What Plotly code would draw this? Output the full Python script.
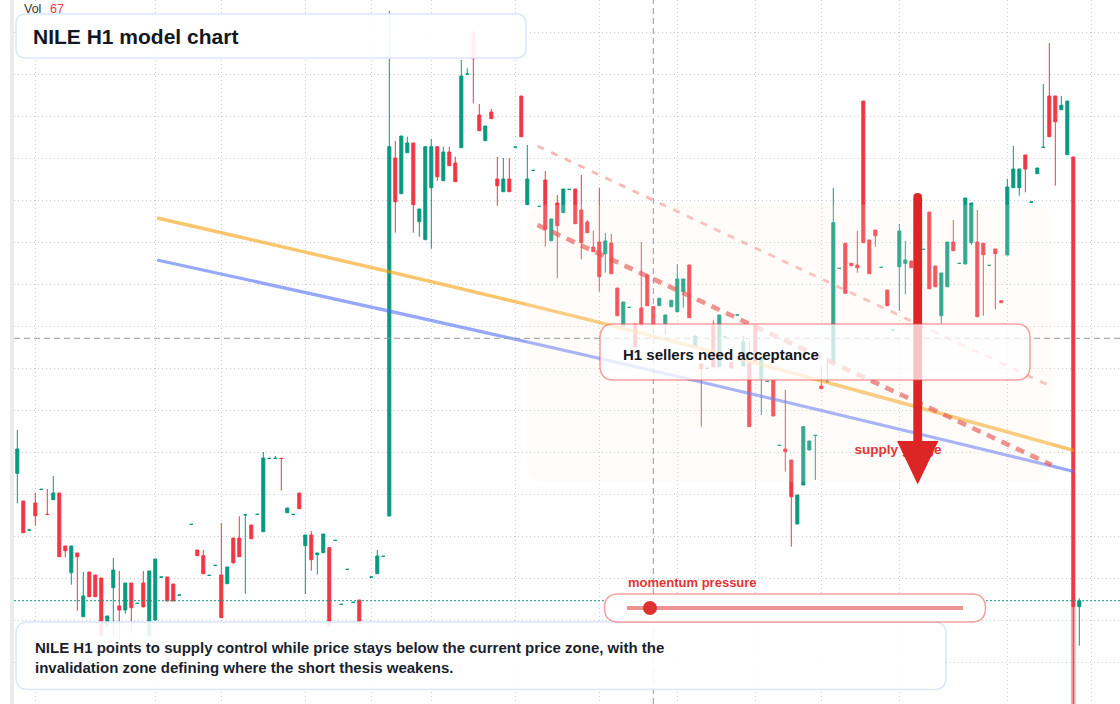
import plotly.graph_objects as go

W, H = 1120, 704
ML = 14
GREEN = "#089981"
RED = "#f23645"
FONT = "Liberation Sans, Arial, sans-serif"

# hourly candles, index 0..177 (None = no print)
open_ = [
    52.67, 49.9, 46.97, 49.7, 51.05, 48.57, 50.03, 50.7, 45.4, 42.73,
    44.7, 38.33, 42.8, 42.5, 42.2, 37.4, 41.23, 39.4, 39.0, 41.7,
    39.65, 41.7, 36.4, 38.0, 42.28, 42.3, 41.6, 40.48, None, 47.55,
    45.0, 44.43, 42.45, 43.45, 42.5, 41.63, 46.2, 46.2, 48.51, 47.5,
    48.55, 46.83, 54.15, 54.15, 54.17, 48.73, 48.55, 50.7, 45.43, 46.5,
    44.53, 44.73, 45.23, 45.95, 39.55, 43.05, 39.75, 40.0, None, 42.28,
    42.63, 44.35, 48.4, 84.2, 80.63, 84.73, 85.7, 77.83, 76.03, 81.23,
    85.33, 81.93, 84.8, 83.7, 85.23, 92.58, 96.8, 88.5, 85.93, 88.8,
    82.1, 80.83, 82.1, 85.28, 90.4, 79.53, 82.95, 79.35, 82.0, 75.93,
    79.7, 78.73, 81.05, 81.1, 79.0, 77.8, 75.3, 75.8, 74.63, 75.7,
    71.2, 67.4, 69.25, 67.6, 69.2, 72.5, 69.33, 69.43, 67.63, 69.33,
    68.83, 70.83, 73.5, 65.43, 63.6, 63.15, 67.4, 63.33, 66.31, 63.73,
    68.48, 63.4, 63.67, 67.5, 62.07, 61.85, 61.93, 55.45, 55.1, 54.0,
    47.6, 51.5, 55.0, 56.45, 61.4, 61.81, 63.83, 73.15, 75.67, 73.67,
    73.5, 89.9, 76.0, 77.0, 73.25, 71.0, 66.98, 73.33, 73.67, 73.9,
    None, 75.05, 78.8, 73.4, 68.43, 71.33, 75.8, 73.65, 73.6, 75.73,
    75.8, 75.67, 73.45, 75.1, 69.93, 74.5, 81.23, 81.23, 84.5, 79.78,
    82.63, 85.25, 90.4, 90.4, 89.03, 84.53, 84.3, 39.33,
]
high = [
    57.0, 49.9, 47.0, 50.7, 51.07, 51.1, 52.4, 50.7, 45.4, 45.4,
    44.7, 42.8, 42.8, 42.5, 42.2, 38.4, 44.2, 42.9, 41.7, 41.7,
    39.67, 42.9, 42.9, 44.1, 42.3, 42.3, 41.6, 40.5, None, 47.57,
    45.0, 45.0, 42.47, 43.47, 47.7, 43.3, 46.2, 48.37, 48.53, 47.5,
    48.57, 54.8, 54.17, 54.4, 54.17, 49.2, 48.57, 50.7, 46.5, 46.9,
    44.7, 46.6, 45.23, 45.97, 39.57, 43.07, 39.77, 40.0, None, 42.3,
    45.0, 44.37, 98.9, 85.9, 86.4, 86.33, 85.7, 79.1, 85.33, 86.1,
    85.33, 85.33, 85.33, 84.33, 94.0, 93.17, 96.8, 89.6, 87.4, 89.13,
    84.3, 84.2, 84.2, 85.3, 90.4, 85.5, 82.97, 79.37, 82.9, 78.1,
    80.5, 81.1, 81.07, 81.1, 82.5, 78.0, 76.93, 81.23, 76.7, 76.6,
    71.2, 69.8, 69.27, 67.6, 75.8, 72.5, 69.33, 70.17, 68.5, 69.97,
    73.57, 72.1, 73.5, 66.4, 63.6, 63.17, 67.97, 68.5, 66.33, 63.73,
    68.5, 66.4, 65.9, 67.5, 64.33, 61.87, 61.93, 55.47, 61.0, 54.0,
    50.5, 57.33, 55.9, 56.47, 63.33, 64.33, 81.2, 73.17, 75.67, 73.67,
    76.9, 89.9, 76.0, 77.0, 73.27, 71.0, 67.0, 77.6, 75.9, 73.9,
    None, 75.07, 78.8, 73.4, 72.7, 75.8, 78.0, 73.67, 80.2, 79.7,
    79.0, 75.67, 73.47, 75.1, 69.93, 82.13, 85.4, 83.1, 84.5, 79.8,
    83.2, 91.6, 95.7, 90.4, 90.4, 89.9, 84.3, 40.17,
]
low = [
    49.67, 46.73, 46.97, 47.43, 51.05, 48.55, 50.03, 44.33, 44.27, 41.53,
    38.93, 38.33, 40.33, 40.33, 36.4, 37.4, 36.33, 36.0, 38.63, 36.7,
    39.65, 39.23, 36.4, 38.0, 42.28, 39.9, 39.9, 40.48, None, 47.55,
    44.43, 42.63, 42.45, 43.45, 38.23, 41.63, 43.6, 44.33, 40.63, 46.13,
    48.55, 46.83, 54.15, 54.15, 50.93, 48.73, 48.55, 49.13, 40.6, 42.93,
    42.53, 44.73, 37.43, 45.95, 39.55, 43.05, 39.75, 37.6, None, 42.28,
    42.63, 44.35, 48.4, 76.73, 80.63, 84.73, 76.73, 76.33, 76.03, 75.13,
    81.9, 81.93, 83.43, 81.83, 85.23, 92.58, 89.67, 86.93, 85.93, 88.13,
    79.43, 80.83, 80.83, 85.28, 86.33, 79.53, 82.95, 79.35, 75.33, 75.93,
    72.17, 78.73, 81.05, 77.63, 74.07, 76.73, 74.83, 70.83, 72.73, 72.63,
    68.43, 67.4, 69.25, 65.33, 67.47, 69.43, 67.5, 69.43, 66.5, 69.33,
    68.83, 69.23, 68.23, 65.43, 57.33, 63.15, 63.33, 63.33, 66.31, 63.2,
    68.48, 63.4, 57.33, 63.83, 58.5, 61.85, 58.4, 55.45, 52.83, 45.33,
    47.6, 51.5, 55.0, 52.0, 61.13, 61.81, 63.83, 73.15, 70.67, 73.43,
    72.73, 75.73, 72.63, 75.33, 73.25, 69.43, 66.98, 68.9, 70.57, 73.23,
    None, 75.05, 71.13, 71.33, 67.67, 71.33, 74.93, 73.65, 73.6, 75.5,
    68.33, 68.43, 73.45, 69.07, 69.73, 74.5, 81.23, 80.43, 80.77, 79.78,
    82.63, 85.25, 86.33, 81.43, 89.03, 84.53, 25.0, 35.43,
]
close = [
    55.1, 46.73, 47.0, 48.43, 51.07, 48.55, 50.7, 44.33, 44.93, 45.4,
    44.33, 40.4, 40.33, 40.33, 36.4, 38.4, 43.0, 39.0, 41.7, 39.23,
    39.67, 39.33, 42.9, 44.1, 42.3, 39.9, 39.9, 40.5, None, 47.57,
    44.43, 42.63, 42.47, 43.47, 38.23, 43.3, 43.73, 44.33, 48.53, 46.13,
    48.57, 54.2, 54.17, 54.17, 54.15, 49.2, 48.57, 49.13, 46.5, 44.03,
    44.7, 46.6, 37.43, 45.97, 39.57, 43.07, 39.77, 37.6, None, 42.3,
    44.4, 44.37, 85.33, 79.83, 86.4, 85.7, 79.53, 79.1, 85.33, 85.33,
    82.33, 84.8, 83.43, 81.83, 92.4, 92.6, 94.13, 86.93, 87.4, 88.13,
    81.43, 82.1, 80.83, 85.3, 86.33, 82.1, 82.97, 79.37, 77.07, 78.1,
    77.43, 81.1, 81.07, 77.63, 75.73, 76.73, 74.83, 72.33, 75.9, 72.63,
    68.43, 69.8, 69.27, 65.33, 67.47, 69.43, 67.5, 70.17, 68.5, 69.97,
    72.1, 72.1, 68.23, 66.4, 63.13, 63.17, 63.33, 68.5, 66.33, 63.2,
    68.5, 65.83, 57.33, 63.83, 64.33, 61.87, 58.4, 55.47, 54.83, 50.33,
    50.5, 57.33, 55.9, 56.47, 61.13, 61.83, 77.73, 73.17, 70.67, 73.43,
    73.23, 75.73, 72.63, 76.43, 73.27, 69.43, 67.0, 76.9, 74.0, 73.23,
    None, 75.07, 71.13, 71.33, 72.7, 75.8, 74.93, 73.67, 80.2, 79.7,
    68.33, 74.53, 73.47, 74.63, 69.73, 81.3, 83.1, 83.1, 83.1, 79.8,
    83.2, 85.27, 86.33, 87.83, 89.47, 89.9, 39.33, 39.93,
]
idx = list(range(len(open_)))

# faded extension of the last red bar below its close
tail_x = [176]
tail_base = [25.0]

# model curves (candle index, price)
orange_x = [23.3, 100, 176.1]
orange_y = [78.2, 67.3, 54.95]
blue_x = [23.3, 100, 176.1]
blue_y = [74.0, 63.75, 52.85]
chan_x = [86.7, 172.4]
chan_upper = [85.4, 61.33]
chan_lower = [77.5, 53.5]

cross_x = 106
cross_y = 66.17
time_ticks = [3, 23, 34, 48, 59, 69, 83, 97, 110, 123, 134, 147, 165, 179]
vol_value = 67


def fx(x):
    return (x - ML) / (W - ML)


def fy(y):
    return 1 - y / H


def rbox(x0, y0, x1, y1, r):
    p = [
        (x0 + r, y0), (x1 - r, y0), (x1, y0), (x1, y0 + r), (x1, y1 - r),
        (x1, y1), (x1 - r, y1), (x0 + r, y1), (x0, y1), (x0, y1 - r),
        (x0, y0 + r), (x0, y0), (x0 + r, y0),
    ]
    q = [f"{fx(a):.5f},{fy(b):.5f}" for a, b in p]
    return (f"M{q[0]} L{q[1]} Q{q[2]} {q[3]} L{q[4]} Q{q[5]} {q[6]} "
            f"L{q[7]} Q{q[8]} {q[9]} L{q[10]} Q{q[11]} {q[12]} Z")


fig = go.Figure()

fig.add_trace(go.Bar(
    x=tail_x, base=tail_base,
    y=[close[i] - b for i, b in zip(tail_x, tail_base)],
    width=0.75, marker=dict(color="rgba(242,54,69,0.45)", line_width=0),
    hoverinfo="skip", showlegend=False))

fig.add_trace(go.Candlestick(
    x=idx, open=open_, high=high, low=low, close=close,
    increasing=dict(line=dict(color=GREEN, width=1), fillcolor=GREEN),
    decreasing=dict(line=dict(color=RED, width=1), fillcolor=RED),
    whiskerwidth=0, hoverinfo="skip", showlegend=False))

fig.add_trace(go.Scatter(x=orange_x, y=orange_y, mode="lines",
                         line=dict(color="rgba(245,158,11,0.6)", width=3.5, shape="spline"),
                         hoverinfo="skip", showlegend=False))
fig.add_trace(go.Scatter(x=blue_x, y=blue_y, mode="lines",
                         line=dict(color="rgba(79,110,247,0.6)", width=3.2, shape="spline"),
                         hoverinfo="skip", showlegend=False))
fig.add_trace(go.Scatter(x=chan_x, y=chan_upper, mode="lines",
                         line=dict(color="rgba(239,68,68,0.38)", width=2.8, dash="7px,8px"),
                         hoverinfo="skip", showlegend=False))
fig.add_trace(go.Scatter(x=chan_x, y=chan_lower, mode="lines",
                         line=dict(color="rgba(225,45,45,0.62)", width=4.6, dash="9px,7px"),
                         hoverinfo="skip", showlegend=False))

shapes = []
# left strip
shapes.append(dict(type="rect", xref="paper", yref="paper", x0=fx(10), x1=fx(14), y0=0, y1=1,
                   fillcolor="#ebebeb", line_width=0, layer="below"))
# supply zone
shapes.append(dict(type="path", xref="paper", yref="paper", path=rbox(527, 205, 1052, 482, 18),
                   fillcolor="rgba(253,236,222,0.18)", line_width=0))
# crosshair
shapes.append(dict(type="line", xref="x", yref="paper", x0=cross_x, x1=cross_x, y0=0, y1=1,
                   line=dict(color="#9598a1", width=1, dash="6px,4px")))
shapes.append(dict(type="line", xref="paper", yref="y", x0=0, x1=1, y0=cross_y, y1=cross_y,
                   line=dict(color="#9598a1", width=1, dash="6px,4px")))
# last price line
shapes.append(dict(type="line", xref="paper", yref="y", x0=0, x1=1, y0=close[-1], y1=close[-1],
                   line=dict(color=GREEN, width=1, dash="2px,2px")))
# supply label (under the arrow)
shapes.append(dict(type="rect", xref="paper", yref="paper", x0=fx(848.5), x1=fx(960),
                   y0=fy(456), y1=fy(440), line_width=0, fillcolor="rgba(0,0,0,0)",
                   label=dict(text="<b>supply gauge</b>", textposition="middle left",
                              font=dict(family=FONT, size=13.5, color="#e03535"))))
# arrow
cx, hw, top, neck = 917.7, 4.4, 193, 442
shaft = (f"M{fx(cx - hw):.5f},{fy(neck):.5f} L{fx(cx - hw):.5f},{fy(top + hw):.5f} "
         f"Q{fx(cx - hw):.5f},{fy(top):.5f} {fx(cx):.5f},{fy(top):.5f} "
         f"Q{fx(cx + hw):.5f},{fy(top):.5f} {fx(cx + hw):.5f},{fy(top + hw):.5f} "
         f"L{fx(cx + hw):.5f},{fy(neck):.5f} Z")
shapes.append(dict(type="path", xref="paper", yref="paper", path=shaft,
                   fillcolor="#dc2626", line_width=0))
head = (f"M{fx(897):.5f},{fy(441):.5f} L{fx(938.4):.5f},{fy(441):.5f} "
        f"L{fx(917.7):.5f},{fy(484.5):.5f} Z")
shapes.append(dict(type="path", xref="paper", yref="paper", path=head,
                   fillcolor="#dc2626", line_width=0))
# boxes
shapes.append(dict(type="path", xref="paper", yref="paper", path=rbox(600, 324, 1030, 380, 14),
                   fillcolor="rgba(255,255,255,0.74)",
                   line=dict(color="rgba(239,68,68,0.5)", width=1.5)))
shapes.append(dict(type="path", xref="paper", yref="paper", path=rbox(16, 14, 526, 58, 10),
                   fillcolor="rgba(255,255,255,0.92)", line=dict(color="#dbe6fb", width=1.5)))
shapes.append(dict(type="path", xref="paper", yref="paper", path=rbox(16, 622, 946, 689.5, 12),
                   fillcolor="rgba(255,255,255,0.9)", line=dict(color="#dbe6fb", width=1.5)))
shapes.append(dict(type="path", xref="paper", yref="paper", path=rbox(604.5, 594, 985.5, 622, 14),
                   fillcolor="rgba(255,255,255,0.97)",
                   line=dict(color="rgba(239,68,68,0.5)", width=1.5)))
shapes.append(dict(type="line", xref="paper", yref="paper", x0=fx(627), x1=fx(963),
                   y0=fy(608), y1=fy(608), line=dict(color="rgba(220,38,38,0.5)", width=4)))
shapes.append(dict(type="circle", xref="paper", yref="paper", x0=fx(643), x1=fx(657),
                   y0=fy(615), y1=fy(601), fillcolor="#e03131", line_width=0))

annotations = [
    dict(text="Vol", x=fx(21.5), y=fy(8.5), font=dict(size=12.5, color="#333333", family=FONT)),
    dict(text=str(vol_value), x=fx(48), y=fy(8.5), font=dict(size=12.5, color=RED, family=FONT)),
    dict(text="<b>NILE H1 model chart</b>", x=fx(30.5), y=fy(36),
         font=dict(size=21, color="#131722", family=FONT)),
    dict(text="<b>H1 sellers need acceptance</b>", x=fx(621), y=fy(354),
         font=dict(size=15, color="#131722", family=FONT)),
    dict(text="<b>momentum pressure</b>", x=fx(625.5), y=fy(582.5),
         font=dict(size=13, color="#e03535", family=FONT)),
    dict(text="<b>NILE H1 points to supply control while price stays below the current price zone, with the<br>"
              "invalidation zone defining where the short thesis weakens.</b>",
         x=fx(33), y=fy(657.7), align="left",
         font=dict(size=15, color="#1a1f2e", family=FONT)),
]
for a in annotations:
    a.update(xref="paper", yref="paper", xanchor="left", yanchor="middle", showarrow=False)

fig.update_layout(
    width=W, height=H,
    margin=dict(l=ML, r=0, t=0, b=0),
    paper_bgcolor="white", plot_bgcolor="white",
    boxgap=0.28, barmode="overlay",
    shapes=shapes, annotations=annotations,
    showlegend=False, hovermode=False,
    xaxis=dict(range=[-0.55, 183.78], tickmode="array", tickvals=time_ticks,
               showticklabels=False, showgrid=True, gridcolor="#cdcdcd", griddash="1px,3px",
               gridwidth=1, zeroline=False, showline=False, ticks="",
               rangeslider=dict(visible=False), fixedrange=True),
    yaxis=dict(range=[29.6, 100], tick0=96.77, dtick=4.2, showticklabels=False,
               showgrid=True, gridcolor="#cdcdcd", griddash="1px,3px", gridwidth=1,
               zeroline=False, showline=False, ticks="", fixedrange=True),
)

# page margin off so the 1120x704 figure fills the window
fig.write_html("out.html", config={"displayModeBar": False},
               post_script="document.body.style.margin='0';document.body.style.overflow='hidden';")
